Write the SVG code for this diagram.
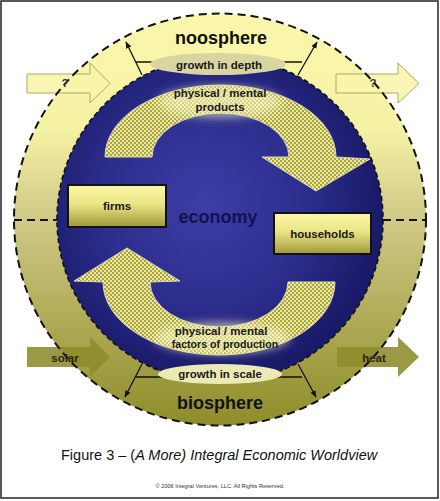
<svg xmlns="http://www.w3.org/2000/svg" width="440" height="501" viewBox="0 0 440 501">
<defs>
<style>
.b{font-family:"Liberation Sans",Arial,sans-serif;font-weight:bold;text-anchor:middle}
.big{font-size:18px;fill:#111}
.lab{font-size:11.5px;fill:#1a1a1a}
.dash-o{fill:none;stroke:#111;stroke-width:2;stroke-dasharray:8 5}
.dash-i{fill:none;stroke:#111;stroke-width:1.6;stroke-dasharray:5 3}
.ln{stroke:#111;stroke-width:1.3;fill:none}
.box{stroke:#111;stroke-width:2;fill:url(#boxg)}
.chk{fill:url(#chk);stroke:#dcdab0;stroke-width:1}
.q{fill:#f8f5a8;fill-opacity:0.85;stroke:#b0a865;stroke-width:1}
.ol{fill:#8d8b2b;fill-opacity:0.88}
</style>
<linearGradient id="ring" x1="0" y1="13" x2="0" y2="426" gradientUnits="userSpaceOnUse">
<stop offset="0" stop-color="#faf7ad"/>
<stop offset="0.28" stop-color="#f6f2a4"/>
<stop offset="0.43" stop-color="#dcd591"/>
<stop offset="0.57" stop-color="#c6c079"/>
<stop offset="0.77" stop-color="#aca852"/>
<stop offset="1" stop-color="#8f8c2a"/>
</linearGradient>
<radialGradient id="blue" cx="205" cy="205" r="175" gradientUnits="userSpaceOnUse">
<stop offset="0" stop-color="#3c3ea6"/>
<stop offset="0.6" stop-color="#2c2d8c"/>
<stop offset="1" stop-color="#1a1a69"/>
</radialGradient>
<linearGradient id="boxg" x1="0" y1="0" x2="0" y2="1">
<stop offset="0" stop-color="#fbf8a8"/>
<stop offset="0.45" stop-color="#ebe585"/>
<stop offset="1" stop-color="#9e9838"/>
</linearGradient>
<pattern id="chk" width="4" height="4" patternUnits="userSpaceOnUse">
<rect width="4" height="4" fill="#f0ed88"/>
<rect width="2" height="2" fill="#a6a25c"/>
<rect x="2" y="2" width="2" height="2" fill="#a6a25c"/>
</pattern>
<filter id="soft" x="-30%" y="-60%" width="160%" height="220%">
<feGaussianBlur stdDeviation="4"/>
</filter>
<marker id="ah" viewBox="0 0 10 10" refX="9" refY="5" markerWidth="7" markerHeight="7" orient="auto" markerUnits="userSpaceOnUse">
<path d="M0,1 L10,5 L0,9 z" fill="#111"/>
</marker>
</defs>

<rect x="0" y="0" width="440" height="501" fill="#fff"/>
<rect x="1" y="1" width="437" height="497" fill="none" stroke="#222" stroke-width="1.5"/>

<g id="spheres">
<circle cx="220" cy="219.5" r="206" fill="url(#ring)"/>
<circle cx="220" cy="219.5" r="163" fill="url(#blue)"/>
</g>

<g id="side-arrow-shapes">
<path class="q" d="M27,74 H90 V63 L110,83.5 L90,103 V93 H27 Z"/>
<path class="q" d="M336,74 H398 V63 L419,83.5 L398,103 V93 H336 Z"/>
<path class="ol" d="M27,347 H90 V337 L110,357 L90,377 V367 H27 Z"/>
<path class="ol" d="M337,347 H398 V337 L419,357 L398,377 V367 H337 Z"/>
</g>

<g id="circles-outline">
<circle class="dash-o" cx="220" cy="219.5" r="206"/>
<circle class="dash-i" cx="220" cy="219.5" r="163"/>
<line class="dash-o" x1="14" y1="220" x2="57" y2="220"/>
<line class="dash-o" x1="383" y1="220" x2="426" y2="220"/>
</g>

<g id="in-unknown"><text class="b" x="65" y="87" font-size="11.5" fill="#333">?</text></g>
<g id="out-unknown"><text class="b" x="373" y="87" font-size="11.5" fill="#333">?</text></g>
<g id="solar"><text class="b" x="65" y="362" font-size="11.5" fill="#26260c">solar</text></g>
<g id="heat"><text class="b" x="374" y="362" font-size="11.5" fill="#26260c">heat</text></g>

<g id="flow-products">
<path class="chk" d="M105,157 A115.5,72 0 0 1 336,157 L370,159 L316,191 L262,157 L289,157 A68.5,44 0 0 0 152,157 Z"/>
<ellipse cx="220" cy="102" rx="62" ry="16" fill="#f6f4c4" opacity="0.6" filter="url(#soft)"/>
<text class="b lab" x="220" y="97">physical / mental</text>
<text class="b lab" x="220" y="111">products</text>
</g>

<g id="flow-factors">
<path class="chk" d="M335,282 A116,73 0 0 1 103,282 L74,281 L127,248 L180,281 L150,282 A69,45 0 0 0 288,282 Z"/>
<ellipse cx="222" cy="338" rx="68" ry="16" fill="#f6f4c4" opacity="0.6" filter="url(#soft)"/>
<text class="b lab" x="221" y="335">physical / mental</text>
<text class="b" x="225" y="348" font-size="10.6" fill="#1a1a1a">factors of production</text>
</g>

<g id="connectors">
<line class="ln" x1="136" y1="62" x2="302" y2="62"/>
<line class="ln" x1="142" y1="75" x2="126" y2="42" marker-end="url(#ah)"/>
<line class="ln" x1="298" y1="75" x2="317" y2="42" marker-end="url(#ah)"/>
<line class="ln" x1="136" y1="377" x2="302" y2="377"/>
<line class="ln" x1="142" y1="364" x2="125" y2="397" marker-end="url(#ah)"/>
<line class="ln" x1="298" y1="364" x2="316" y2="397" marker-end="url(#ah)"/>
</g>

<g id="growth-depth">
<ellipse cx="218" cy="64" rx="68" ry="11" fill="#d8d5a0"/>
<text class="b lab" x="219" y="69">growth in depth</text>
</g>
<g id="growth-scale">
<ellipse cx="220" cy="374" rx="62" ry="10" fill="#ebe9b4"/>
<text class="b lab" x="220" y="378">growth in scale</text>
</g>

<g id="noosphere"><text class="b big" x="221" y="44">noosphere</text></g>
<g id="biosphere"><text class="b big" x="220" y="409">biosphere</text></g>
<g id="economy"><text class="b" x="218" y="223" font-size="18" fill="#12124e">economy</text></g>

<g id="firms">
<rect class="box" x="68" y="185" width="98" height="42"/>
<text class="b lab" x="117" y="210" fill="#111">firms</text>
</g>
<g id="households">
<rect class="box" x="274" y="213" width="97" height="41"/>
<text class="b lab" x="322.5" y="238" fill="#111">households</text>
</g>

<g id="caption">
<text x="61" y="460" font-family="'Liberation Sans',Arial,sans-serif" font-size="14.5" fill="#111">Figure 3 – (<tspan font-style="italic">A More) Integral Economic Worldview</tspan></text>
<text x="220" y="488" font-family="'Liberation Sans',Arial,sans-serif" font-size="5.6" fill="#333" text-anchor="middle">© 2006 Integral Ventures, LLC.  All Rights Reserved.</text>
</g>
</svg>
